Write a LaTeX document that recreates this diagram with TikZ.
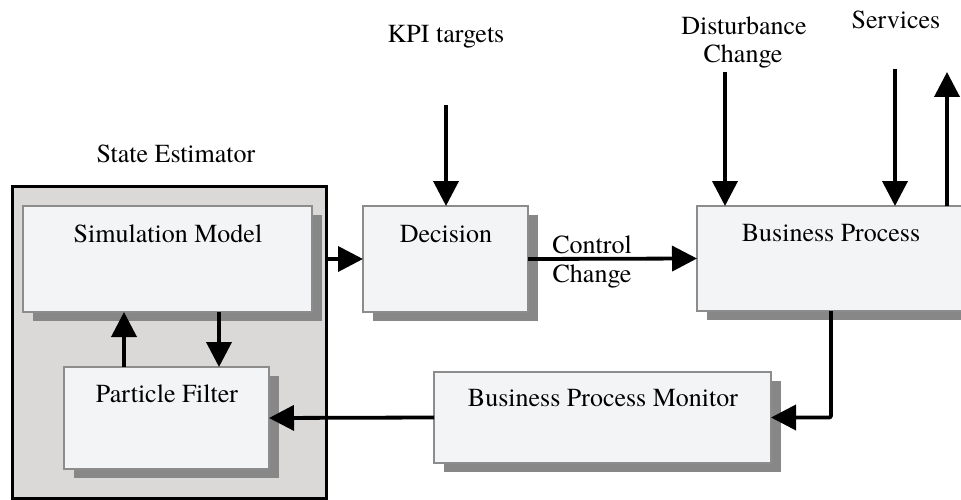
\documentclass[tikz,border=0pt]{standalone}
\usepackage{fontspec}
\setmainfont{TeX Gyre Termes}
\usetikzlibrary{arrows.meta,shadows}
\definecolor{panelfill}{HTML}{DAD9D8}
\definecolor{boxfill}{HTML}{F3F4F6}
\definecolor{boxline}{HTML}{8C8C8C}
\definecolor{shadowgray}{HTML}{868786}
\begin{document}
\begin{tikzpicture}[x=1pt,y=-1pt,
  every node/.style={font=\fontsize{26}{29}\selectfont, inner sep=0pt, outer sep=0pt},
  block/.style={draw=boxline, line width=1.2pt, fill=boxfill, anchor=north west,
    drop shadow={shadow xshift=10pt, shadow yshift=-9pt, fill=shadowgray, opacity=1}},
  panel/.style={draw=black, line width=3pt, fill=panelfill, anchor=north west},
  flow/.style={line width=3.8pt, -{Triangle[length=25pt,width=25pt]}},
  label/.style={anchor=base}]
  \useasboundingbox (0,0) rectangle (961,500);
  \clip (0,0) rectangle (961,500);

  % state estimator panel and the blocks
  \node[panel, minimum width=314pt, minimum height=312pt] (est) at (12,186) {};
  \node[block, minimum width=289pt, minimum height=106pt] (sim) at (23,206) {};
  \node[block, minimum width=205pt, minimum height=102pt] (pf) at (64,367) {};
  \node[block, minimum width=165pt, minimum height=106pt] (dec) at (363,206) {};
  \node[block, minimum width=268pt, minimum height=105pt] (bp) at (697,206) {};
  \node[block, minimum width=337pt, minimum height=91pt] (mon) at (434,372) {};

  % texts
  \node[label] (estT) at (176,163) {State Estimator};
  \node[label] (simT) at (168,242) {Simulation Model};
  \node[label] (pfT) at (167,402) {Particle Filter};
  \node[label] (decT) at (446,242) {Decision};
  \node[label] (bpT) at (831,241) {Business Process};
  \node[label] (monT) at (603,406) {Business Process Monitor};
  \node[label] (kpi) at (446,43) {KPI targets};
  \node[label] (dist1) at (744,35) {Disturbance};
  \node[label] (dist2) at (743,63) {Change};
  \node[label] (serv) at (896,29) {Services};
  \node[label] (ctl1) at (592,253) {Control};
  \node[label] (ctl2) at (592,282) {Change};

  % free ends of the external signals
  \coordinate (kpiTail) at (446,105);
  \coordinate (distTail) at (725,72);
  \coordinate (servTail) at (895,69);
  \coordinate (outTip) at (947,72);
  \coordinate (upx) at (124,0);
  \coordinate (dnx) at (219,0);

  % connectors
  \draw[flow] (kpiTail) -- (kpiTail |- dec.north);
  \draw[flow] (distTail) -- (distTail |- bp.north);
  \draw[flow] (servTail) -- (servTail |- bp.north);
  \draw[flow] (outTip |- bp.north) -- (outTip);
  \draw[flow] (est.east |- dec.west) -- (dec.west);
  \draw[flow] (dec.east) -- (bp.west);
  \draw[flow] (upx |- pf.north) -- (upx |- sim.south);
  \draw[flow] (dnx |- sim.south) -- (dnx |- pf.north);
  \draw[flow, rounded corners=2pt] (bp.south) |- (mon.east);
  \draw[flow] (mon.west) -- (pf.east);
\end{tikzpicture}
\end{document}
